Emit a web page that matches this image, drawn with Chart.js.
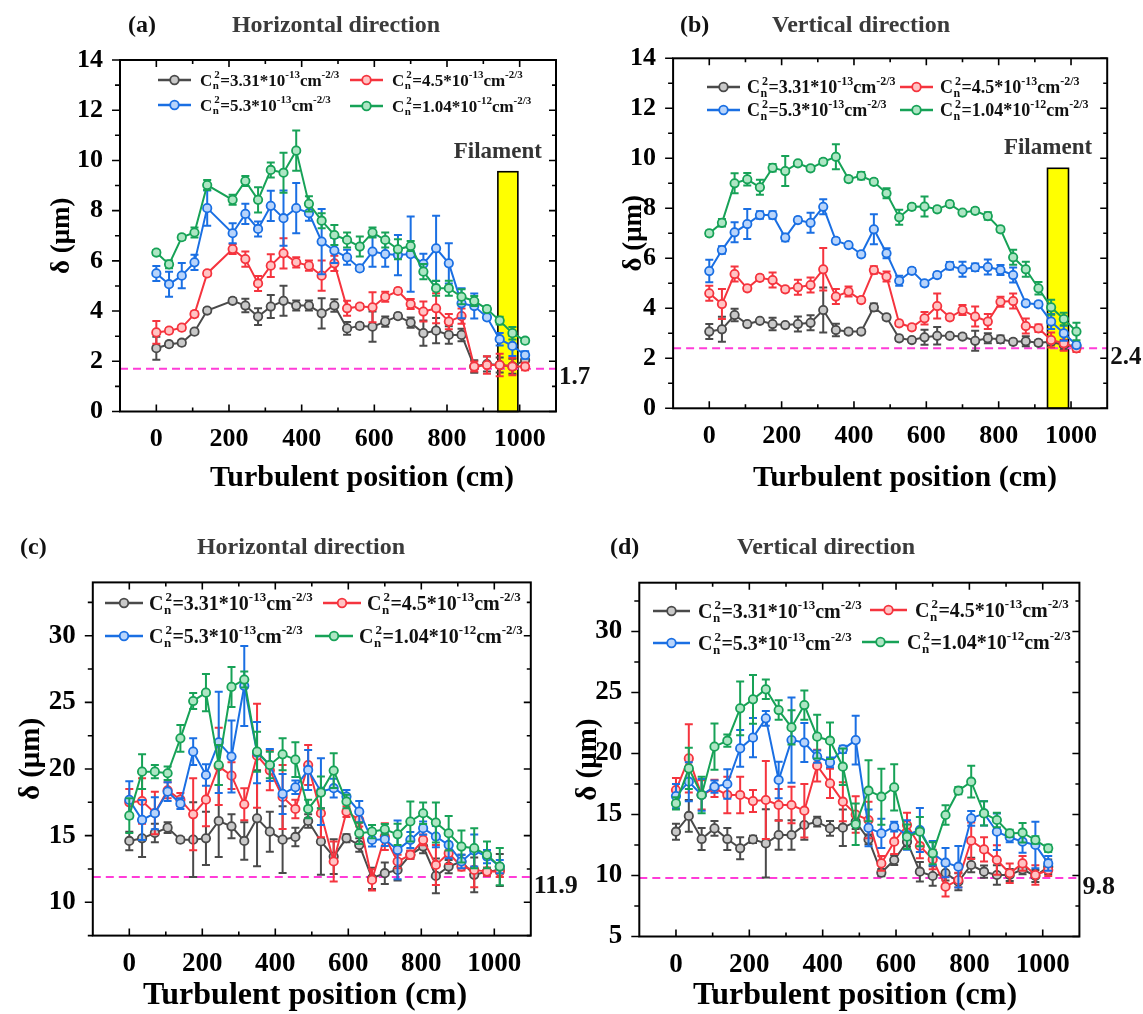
<!DOCTYPE html>
<html>
<head>
<meta charset="utf-8">
<script src="https://cdn.jsdelivr.net/npm/chart.js@4.4.1/dist/chart.umd.min.js"></script>
<style>
html,body{margin:0;padding:0;background:#fff;}
#wrap{position:relative;width:1143px;height:1014px;overflow:hidden;background:#fff;}
canvas{position:absolute;left:0;top:0;}
</style>
</head>
<body>
<div id="wrap">
<canvas id="ca" width="1143" height="1014"></canvas>
<canvas id="cb" width="1143" height="1014"></canvas>
<canvas id="cc" width="1143" height="1014"></canvas>
<canvas id="cd" width="1143" height="1014"></canvas>
</div>
<script>
// ---------------- DATA ----------------
const xA = [0,35,70,105,140,210,245,280,315,350,385,420,455,490,525,560,595,630,665,700,735,770,805,840,875,910,945,980,1015];
const xBCD = [0,35,70,105,140,175,210,245,280,315,350,385,420,455,490,525,560,595,630,665,700,735,770,805,840,875,910,945,980,1015];

const legendCoefs = ['3.31','4.5','5.3','1.04'];
const legendExps  = ['-13','-13','-13','-12'];

const xTickValues = [0,200,400,600,800,1000];
const xMinorValues = [100,300,500,700,900];

// (a) Horizontal direction
const aBlack = [2.52,2.68,2.74,3.18,4.02,4.41,4.22,3.78,4.18,4.41,4.22,4.22,3.91,4.22,3.31,3.41,3.38,3.58,3.80,3.54,3.12,3.22,3.05,3.05,1.79,1.89,1.85,1.80,2.05];
const aBlackErr = [0.46,0.1,0.1,0.08,0.1,0.1,0.27,0.33,0.46,0.6,0.2,0.2,0.6,0.25,0.25,0.1,0.6,0.2,0.1,0.2,0.5,0.5,0.35,0.25,0.25,0.3,0.3,0.3,0.3];
const aRed = [3.15,3.22,3.34,3.88,5.5,6.47,6.07,5.1,5.81,6.3,5.94,5.81,5.41,5.9,4.11,4.18,4.15,4.57,4.8,4.28,3.98,4.11,3.58,3.8,1.79,1.85,1.85,1.79,1.79];
const aRedErr = [0.45,0.1,0.1,0.1,0.1,0.2,0.3,0.3,0.45,0.6,0.2,0.2,0.6,0.3,0.3,0.1,0.6,0.2,0.1,0.2,0.4,0.6,0.3,0.3,0.2,0.35,0.45,0.35,0.15];
const aBlue = [5.5,5.07,5.41,5.94,8.1,7.1,7.87,7.27,8.19,7.7,8.1,7.9,6.77,6.41,6.14,5.7,6.37,6.27,6.23,6.27,5.88,6.5,5.9,4.31,4.2,3.75,2.88,2.61,2.25];
const aBlueErr = [0.3,0.5,0.5,0.3,0.7,0.4,0.4,0.3,0.6,1.1,1.0,0.3,1.3,0.5,0.3,0.1,0.6,0.5,0.8,1.5,0.4,1.3,0.8,0.6,0.5,0.1,0.25,0.4,0.15];
const aGreen = [6.33,5.86,6.94,7.13,9.02,8.43,9.18,8.43,9.62,9.51,10.39,8.27,7.6,7.03,6.83,6.57,7.13,6.83,6.46,6.59,5.57,4.91,4.91,4.57,4.4,4.08,3.62,3.12,2.82];
const aGreenErr = [0.1,0.15,0.1,0.2,0.2,0.2,0.2,0.5,0.3,0.8,0.8,0.3,0.3,0.4,0.3,0.4,0.2,0.3,0.4,0.2,0.3,0.3,0.3,0.3,0.2,0.1,0.15,0.25,0.1];
const aRef = 1.7;
const aFilament = [940, 995, 9.55];

// (b) Vertical direction
const bBlack = [3.07,3.16,3.73,3.37,3.5,3.37,3.33,3.37,3.42,3.93,3.13,3.07,3.07,4.04,3.64,2.8,2.73,2.84,2.9,2.9,2.87,2.7,2.8,2.76,2.66,2.68,2.62,2.66,2.53,2.49];
const bBlackErr = [0.3,0.5,0.25,0.05,0.05,0.25,0.05,0.3,0.3,0.9,0.25,0.1,0.1,0.15,0.1,0.1,0.05,0.3,0.35,0.05,0.1,0.4,0.2,0.15,0.1,0.2,0.1,0.1,0.2,0.1];
const bRed = [4.6,4.17,5.37,4.8,5.22,5.13,4.76,4.84,4.93,5.56,4.47,4.67,4.33,5.53,5.27,3.4,3.24,3.6,4.09,3.64,3.93,3.67,3.47,4.26,4.29,3.29,3.2,2.73,2.6,2.4];
const bRedErr = [0.3,0.6,0.3,0.1,0.1,0.3,0.1,0.3,0.3,0.85,0.3,0.2,0.1,0.15,0.2,0.1,0.1,0.25,0.5,0.1,0.2,0.4,0.3,0.2,0.3,0.3,0.15,0.3,0.3,0.15];
const bBlue = [5.49,6.33,7.04,7.37,7.73,7.73,6.83,7.53,7.42,8.06,6.7,6.53,6.16,7.16,6.2,5.1,5.5,5.0,5.33,5.7,5.56,5.64,5.65,5.53,5.33,4.2,4.16,3.47,3.0,2.53];
const bBlueErr = [0.45,0.15,0.4,0.6,0.15,0.15,0.15,0.1,0.4,0.3,0.1,0.05,0.1,0.6,0.2,0.2,0.1,0.1,0.1,0.15,0.3,0.15,0.3,0.2,0.3,0.1,0.1,0.3,0.3,0.1];
const bGreen = [7.0,7.42,9.0,9.16,8.84,9.62,9.49,9.8,9.6,9.86,10.06,9.17,9.3,9.06,8.6,7.64,8.06,8.07,7.96,8.17,7.83,7.9,7.69,7.16,6.04,5.56,4.8,4.04,3.57,3.07];
const bGreenErr = [0.1,0.15,0.4,0.25,0.3,0.15,0.6,0.05,0.1,0.1,0.5,0.1,0.15,0.1,0.2,0.3,0.1,0.4,0.1,0.1,0.05,0.1,0.15,0.1,0.3,0.3,0.25,0.3,0.25,0.35];
const bRef = 2.4;
const bFilament = [935, 993, 9.6];

// (c) Horizontal direction
const cBlack = [14.6,14.8,15.2,15.6,14.7,14.7,14.8,16.1,15.7,14.6,16.3,15.3,14.7,14.9,16.1,14.56,13.43,14.81,14.3,11.8,12.18,12.43,13.56,14.18,11.98,12.68,13.06,12.06,12.3,12.43];
const cBlackErr = [0.7,1.4,0.7,0.4,0.2,2.8,2.0,2.7,0.9,1.4,3.6,1.5,2.5,0.7,0.5,2.5,1.3,0.3,0.5,0.8,0.8,0.8,0.3,0.5,1.3,0.5,0.5,1.3,0.3,1.2];
const cRed = [17.5,17.6,16.7,18.4,17.7,16.6,17.7,20.2,19.5,17.35,21.0,19.9,17.9,17.0,20.3,16.68,13.06,16.8,16.18,11.68,14.93,13.06,13.56,14.68,12.8,13.68,12.68,12.43,12.3,12.3];
const cRedErr = [1.0,1.7,1.6,0.6,0.5,2.7,2.0,2.9,1.0,1.2,3.9,1.5,2.4,0.7,1.5,1.8,1.5,0.4,0.5,0.8,1.0,0.5,0.3,0.4,1.5,0.8,0.3,1.3,0.3,0.4];
const cBlue = [17.68,16.18,16.68,18.3,17.4,21.3,19.55,22.0,20.93,26.23,21.23,20.3,18.13,18.63,19.93,18.3,18.56,17.93,16.8,14.68,14.73,13.93,14.68,15.56,14.93,14.3,13.06,13.88,13.43,12.68];
const cBlueErr = [1.4,1.5,1.2,0.7,0.4,1.0,0.8,3.8,2.7,3.0,2.3,1.2,1.5,0.5,1.5,2.5,0.7,0.5,0.8,0.5,0.5,2.2,0.6,0.5,0.8,1.0,0.5,1.2,0.5,0.5];
const cGreen = [16.5,19.8,19.8,19.68,22.3,25.1,25.73,20.3,26.16,26.71,21.3,20.3,21.1,20.7,17.0,18.23,19.88,17.56,15.18,15.3,15.48,15.1,16.06,16.68,15.98,15.18,14.18,14.06,13.56,12.68];
const cGreenErr = [1.3,1.3,0.5,0.5,1.0,0.6,1.4,1.5,1.5,0.6,1.5,1.0,1.2,1.3,0.7,1.2,1.3,0.5,0.8,0.5,0.4,0.8,1.5,0.8,1.5,1.3,1.2,1.5,1.0,1.4];
const cRef = 11.9;

// (d) Vertical direction
const dBlack = [13.59,14.88,12.99,13.86,12.99,12.23,12.96,12.63,13.32,13.32,14.14,14.41,13.86,13.92,14.41,12.96,10.23,11.27,12.77,10.31,9.96,10.2,9.49,10.86,10.31,10.04,10.04,10.5,9.96,10.72];
const dBlackErr = [0.65,1.3,0.9,0.6,0.9,0.9,0.3,2.8,1.2,1.2,1.2,0.4,0.6,1.5,0.6,0.4,0.3,0.4,0.4,0.8,0.8,0.6,0.7,0.6,0.5,0.8,0.5,0.4,0.5,0.6];
const dRed = [17.0,19.6,16.6,17.14,16.6,16.6,16.1,16.19,15.78,15.78,15.31,19.0,17.55,16.05,15.0,14.55,10.99,12.77,14.14,12.42,11.32,9.08,9.63,12.85,12.14,11.27,10.18,10.99,10.04,10.45];
const dRedErr = [1.0,2.8,1.2,0.7,1.5,1.5,0.9,3.2,1.3,1.5,2.2,1.3,1.2,1.6,1.5,1.5,0.6,1.0,1.0,1.0,0.8,0.8,0.6,1.5,1.0,1.2,0.8,0.6,0.8,0.5];
const dBlue = [16.51,17.69,16.6,17.28,17.5,20.42,21.3,22.88,17.83,21.1,20.9,19.74,19.27,20.34,21.1,13.9,13.45,14.0,13.32,13.73,11.82,11.05,10.72,14.68,15.09,13.59,13.13,12.77,12.5,10.99];
const dBlueErr = [1.0,1.6,1.3,0.5,1.2,1.5,1.6,0.6,1.5,3.5,1.6,0.5,0.4,0.3,2.0,1.5,1.2,0.4,1.2,1.8,1.0,1.2,1.7,0.6,1.0,1.5,0.4,0.9,1.9,0.6];
const dGreen = [15.91,18.78,16.6,20.56,21.05,23.7,24.44,25.26,23.56,22.14,23.97,21.38,21.05,18.92,14.2,16.95,16.46,17.22,13.18,13.59,11.82,14.96,16.95,17.69,15.09,14.55,13.45,13.51,12.91,12.23];
const dGreenErr = [0.5,1.7,1.5,1.9,0.5,2.2,2.0,0.8,0.8,1.4,1.2,1.8,1.5,1.5,1.7,2.5,2.3,1.9,1.0,1.2,0.9,0.8,0.3,1.3,1.0,0.6,0.3,0.8,0.3,0.3];
const dRef = 9.8;

const yTicksAB = [0,2,4,6,8,10,12,14];
const yMinorAB = [1,3,5,7,9,11,13];
const yTicksC = [10,15,20,25,30];
const yTicksD = [5,10,15,20,25,30];
const yMinorCD = [7.5,12.5,17.5,22.5,27.5,32.5];

// ---------------- STYLE ----------------
const SERIF = "'Liberation Serif','Times New Roman',serif";
const COLORS = ['#4a4a4a', '#f5343e', '#1a6fe3', '#17a257'];
const FILLS  = ['#c9c9c9', '#ffc4c4', '#b8d4fb', '#aee6c4'];
const REFCOLOR = '#ff3cd8';

function drawLegendText(ctx, x, y, S, coef, exp) {
  const big = `bold ${S}px ${SERIF}`;
  const small = `bold ${Math.round(S * 0.64)}px ${SERIF}`;
  const base = y + S * 0.33;
  ctx.textAlign = 'left';
  ctx.textBaseline = 'alphabetic';
  ctx.fillStyle = '#111';
  ctx.font = big; ctx.fillText('C', x, base); x += ctx.measureText('C').width + 0.5;
  ctx.font = small;
  ctx.fillText('n', x, base + S * 0.2);
  ctx.fillText('2', x + 1.5, base - S * 0.42);
  x += Math.max(ctx.measureText('n').width, ctx.measureText('2').width + 1.5) + 0.5;
  ctx.font = big; const t1 = '=' + coef + '*10'; ctx.fillText(t1, x, base); x += ctx.measureText(t1).width;
  ctx.font = small; ctx.fillText(exp, x, base - S * 0.42); x += ctx.measureText(exp).width;
  ctx.font = big; ctx.fillText('cm', x, base); x += ctx.measureText('cm').width;
  ctx.font = small; ctx.fillText('-2/3', x, base - S * 0.42);
}

function makePlugin(P) {
  return {
    id: 'panelDecor',
    beforeDatasetsDraw(chart) {
      if (!P.filament) return;
      const {ctx, scales: {x, y}} = chart;
      const [f0, f1, fTop] = P.filament;
      const px0 = x.getPixelForValue(f0), px1 = x.getPixelForValue(f1);
      const pyT = y.getPixelForValue(fTop), pyB = y.getPixelForValue(P.yMin);
      ctx.save();
      ctx.fillStyle = '#ffff00';
      ctx.fillRect(px0, pyT, px1 - px0, pyB - pyT);
      ctx.strokeStyle = '#000'; ctx.lineWidth = 1.6;
      ctx.strokeRect(px0, pyT, px1 - px0, pyB - pyT);
      ctx.restore();
    },
    beforeDatasetDraw(chart, args) {
      const ds = chart.data.datasets[args.index];
      if (!ds.errors) return;
      const {ctx, scales: {y}} = chart;
      ctx.save();
      ctx.strokeStyle = ds.borderColor; ctx.lineWidth = 2;
      args.meta.data.forEach((el, j) => {
        const v = ds.data[j].y, e = ds.errors[j];
        const t = y.getPixelForValue(v + e), b = y.getPixelForValue(v - e);
        ctx.beginPath();
        ctx.moveTo(el.x, t); ctx.lineTo(el.x, b);
        ctx.moveTo(el.x - 4, t); ctx.lineTo(el.x + 4, t);
        ctx.moveTo(el.x - 4, b); ctx.lineTo(el.x + 4, b);
        ctx.stroke();
      });
      ctx.restore();
    },
    afterDraw(chart) {
      const {ctx, chartArea: ca, scales: {x, y}} = chart;
      ctx.save();
      // ticks
      ctx.strokeStyle = '#000'; ctx.lineWidth = 1.6;
      const tk = (list, len, isX) => {
        list.forEach(v => {
          ctx.beginPath();
          if (isX) {
            const p = x.getPixelForValue(v);
            ctx.moveTo(p, ca.bottom); ctx.lineTo(p, ca.bottom - len);
            ctx.moveTo(p, ca.top); ctx.lineTo(p, ca.top + len);
          } else {
            const p = y.getPixelForValue(v);
            ctx.moveTo(ca.left, p); ctx.lineTo(ca.left - len - 1, p);
            ctx.moveTo(ca.right, p); ctx.lineTo(ca.right - len, p);
          }
          ctx.stroke();
        });
      };
      tk(xTickValues, 7, true); tk(xMinorValues, 4, true);
      tk(P.yTicks, 7, false); tk(P.yMinor, 4, false);
      // frame
      ctx.lineWidth = 2;
      ctx.strokeRect(ca.left, ca.top, ca.right - ca.left, ca.bottom - ca.top);
      // ref label
      ctx.fillStyle = '#111';
      ctx.font = `bold ${P.refSize}px ${SERIF}`;
      ctx.textAlign = 'left'; ctx.textBaseline = 'middle';
      ctx.fillText(P.ref.toFixed(1), ca.right + 3, y.getPixelForValue(P.ref) + 9);
      // filament label
      if (P.filament) {
        const cx = (x.getPixelForValue(P.filament[0]) + x.getPixelForValue(P.filament[1])) / 2;
        ctx.font = `bold 23px ${SERIF}`;
        ctx.textAlign = 'center';
        ctx.fillStyle = '#333';
        ctx.fillText('Filament', cx - 10, y.getPixelForValue(P.filament[2]) - 20);
      }
      // x-axis title
      ctx.fillStyle = '#000';
      ctx.font = `bold ${P.xTitle[0]}px ${SERIF}`;
      ctx.textAlign = 'center'; ctx.textBaseline = 'middle';
      ctx.fillText('Turbulent position (cm)', P.xTitle[1], P.xTitle[2]);
      // panel titles
      ctx.font = `bold ${P.titleSize}px ${SERIF}`;
      ctx.textAlign = 'left'; ctx.fillStyle = '#111';
      ctx.fillText(P.letter[0], P.letter[1], P.letter[2]);
      ctx.textAlign = 'center'; ctx.fillStyle = '#3b3b3b';
      ctx.fillText(P.title[0], P.title[1], P.title[2]);
      // legend
      const L = P.legend;
      for (let i = 0; i < 4; i++) {
        const [sx, sy] = L.items[i];
        ctx.strokeStyle = COLORS[i]; ctx.lineWidth = 2.5;
        ctx.beginPath(); ctx.moveTo(sx, sy); ctx.lineTo(sx + L.symLen, sy); ctx.stroke();
        ctx.beginPath(); ctx.arc(sx + L.symLen / 2, sy, 4.3, 0, Math.PI * 2);
        ctx.fillStyle = FILLS[i]; ctx.fill();
        ctx.lineWidth = 1.8; ctx.stroke();
        drawLegendText(ctx, sx + L.symLen + L.gap, sy, L.size, legendCoefs[i], legendExps[i]);
      }
      ctx.restore();
    }
  };
}

function makeChart(id, P) {
  const datasets = P.series.map((s, i) => ({
    label: 'Cn2=' + legendCoefs[i] + '*10' + legendExps[i] + 'cm-2/3',
    data: P.x.map((xv, j) => ({x: xv, y: s[0][j]})),
    errors: s[1],
    borderColor: COLORS[i], backgroundColor: COLORS[i],
    pointBackgroundColor: FILLS[i], pointBorderColor: COLORS[i],
    pointRadius: 4.2, pointBorderWidth: 1.8, borderWidth: 2, tension: 0,
    order: 4 - i
  }));
  datasets.push({
    label: 'ref', data: [{x: -100, y: P.ref}, {x: 1100, y: P.ref}],
    borderColor: REFCOLOR, borderDash: [8, 5], borderWidth: 2, pointRadius: 0, order: 10
  });
  const tickFont = {family: SERIF, weight: 'bold', size: P.tickSize};
  return new Chart(document.getElementById(id), {
    type: 'line',
    data: {datasets},
    plugins: [makePlugin(P)],
    options: {
      responsive: false, animation: false, events: [],
      layout: {padding: P.pad},
      plugins: {legend: {display: false}, tooltip: {enabled: false}},
      scales: {
        x: {
          type: 'linear', min: -100, max: 1100,
          grid: {display: false}, border: {display: false},
          afterBuildTicks: s => { s.ticks = xTickValues.map(v => ({value: v})); },
          afterFit: s => { s.height = P.xH; },
          ticks: {font: tickFont, color: '#000', padding: 4, maxRotation: 0, autoSkip: false,
                  callback: v => String(v)},
          title: {display: false}
        },
        y: {
          type: 'linear', min: P.yMin, max: P.yMax,
          grid: {display: false}, border: {display: false},
          afterBuildTicks: s => { s.ticks = P.yTicks.map(v => ({value: v})); },
          afterFit: s => { s.width = P.yW; },
          ticks: {font: tickFont, color: '#000', padding: 9, autoSkip: false,
                  callback: v => String(v)},
          title: {display: true, text: 'δ (μm)', color: '#000',
                  font: {family: SERIF, weight: 'bold', size: P.yTitleSize, lineHeight: 1},
                  padding: {top: 4, bottom: 4}}
        }
      }
    }
  });
}

makeChart('ca', {
  x: xA,
  series: [[aBlack, aBlackErr], [aRed, aRedErr], [aBlue, aBlueErr], [aGreen, aGreenErr]],
  ref: aRef, refSize: 25, filament: aFilament,
  yMin: 0, yMax: 14, yTicks: yTicksAB, yMinor: yMinorAB,
  pad: {left: 44.5, top: 60, right: 587, bottom: 517.5}, yW: 75.5, xH: 85,
  tickSize: 26, yTitleSize: 27, titleSize: 24, xTitle: [30, 362, 478],
  letter: ['(a)', 128, 26], title: ['Horizontal direction', 336, 26],
  legend: {items: [[158, 80], [350, 80], [158, 105], [350, 106]], symLen: 33, gap: 9, size: 17}
});
makeChart('cb', {
  x: xBCD,
  series: [[bBlack, bBlackErr], [bRed, bRedErr], [bBlue, bBlueErr], [bGreen, bGreenErr]],
  ref: bRef, refSize: 25, filament: bFilament,
  yMin: 0, yMax: 14, yTicks: yTicksAB, yMinor: yMinorAB,
  pad: {left: 616.5, top: 58.3, right: 35.8, bottom: 517.5}, yW: 56.6, xH: 88.2,
  tickSize: 26, yTitleSize: 27, titleSize: 24, xTitle: [30, 905, 478],
  letter: ['(b)', 680, 26], title: ['Vertical direction', 861, 26],
  legend: {items: [[707, 87], [900, 87], [707, 110], [900, 110]], symLen: 33, gap: 7, size: 18}
});
makeChart('cc', {
  x: xBCD,
  series: [[cBlack, cBlackErr], [cRed, cRedErr], [cBlue, cBlueErr], [cGreen, cGreenErr]],
  ref: cRef, refSize: 26, filament: null,
  yMin: 7.5, yMax: 34, yTicks: yTicksC, yMinor: yMinorCD,
  pad: {left: 13.5, top: 582.4, right: 612.2, bottom: 1.5}, yW: 79.3, xH: 76.9,
  tickSize: 27, yTitleSize: 29, titleSize: 24, xTitle: [32, 305, 996],
  letter: ['(c)', 20, 548], title: ['Horizontal direction', 301, 548],
  legend: {items: [[105, 603], [323, 603], [105, 636], [315, 636]], symLen: 38, gap: 6, size: 20}
});
makeChart('cd', {
  x: xBCD,
  series: [[dBlack, dBlackErr], [dRed, dRedErr], [dBlue, dBlueErr], [dGreen, dGreenErr]],
  ref: dRef, refSize: 26, filament: null,
  yMin: 5, yMax: 34, yTicks: yTicksD, yMinor: yMinorCD,
  pad: {left: 570.5, top: 582.7, right: 63.6, bottom: 1.5}, yW: 68.8, xH: 76,
  tickSize: 27, yTitleSize: 29, titleSize: 24, xTitle: [32, 855, 996],
  letter: ['(d)', 610, 548], title: ['Vertical direction', 826, 548],
  legend: {items: [[653, 611], [870, 610], [653, 643], [862, 642]], symLen: 37, gap: 8, size: 20}
});
</script>
</body>
</html>
